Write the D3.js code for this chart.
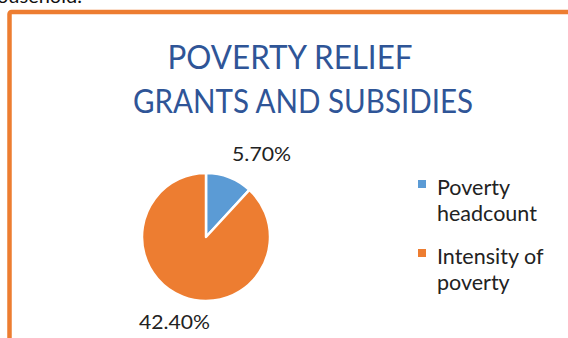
<!DOCTYPE html>
<html>
<head>
<meta charset="utf-8">
<script src="https://cdn.jsdelivr.net/npm/d3@7"></script>
<style>
  body { margin: 0; background: #fff; }
  svg { display: block; font-family: Lato, "Open Sans", sans-serif; }
</style>
</head>
<body>
<svg id="svg" width="568" height="338"></svg>
<script>
const categories = ["Poverty headcount", "Intensity of poverty"];
const values = [5.70, 42.40];
const labels = ["5.70%", "42.40%"];
const legendLines = [["Poverty", "headcount"], ["Intensity of", "poverty"]];
const titleLines = ["POVERTY RELIEF", "GRANTS AND SUBSIDIES"];

const width = 568;
const height = 338;
const svg = d3.select("#svg");

const color = d3.scaleOrdinal()
  .domain(categories)
  .range(["#5B9BD5", "#ED7D31"]);

// stray text of the page above the chart
svg.append("text")
  .attr("x", -3)
  .attr("y", 3)
  .attr("font-size", 20)
  .attr("fill", "#111")
  .text("ousehold.");

// chart frame
svg.append("rect")
  .attr("x", 9.5)
  .attr("y", 12)
  .attr("width", 600)
  .attr("height", 400)
  .attr("rx", 2)
  .attr("fill", "none")
  .attr("stroke", "#ED7D31")
  .attr("stroke-width", 4.5);

// title
const title = svg.append("g").attr("fill", "#2F5597");
title.selectAll("text")
  .data(titleLines)
  .join("text")
  .attr("x", (d, i) => i === 0 ? 290 : 303)
  .attr("y", (d, i) => 69 + i * 44)
  .attr("text-anchor", "middle")
  .attr("font-size", 33)
  .attr("textLength", (d, i) => i === 0 ? 245 : 340)
  .attr("lengthAdjust", "spacingAndGlyphs")
  .text(d => d);

// pie
const cx = 206, cy = 237, r = 64;
const pie = d3.pie().sort(null).value(d => d)(values);
const arc = d3.arc().innerRadius(0).outerRadius(r);
const labelArc = d3.arc().innerRadius(95).outerRadius(95);

const g = svg.append("g").attr("transform", `translate(${cx},${cy})`);
g.selectAll("path")
  .data(pie)
  .join("path")
  .attr("d", arc)
  .attr("fill", (d, i) => color(categories[i]))
  .attr("stroke", "#fff")
  .attr("stroke-width", 2.5)
  .attr("stroke-linejoin", "round");

g.selectAll("text.lbl")
  .data(pie)
  .join("text")
  .attr("class", "lbl")
  .attr("transform", d => {
    const [x, y] = labelArc.centroid(d);
    const mid = (d.startAngle + d.endAngle) / 2;
    const nudge = mid < Math.PI ? 21 : 3;
    return `translate(${x + nudge},${y + (mid < Math.PI ? 6 : -3)})`;
  })
  .attr("text-anchor", "middle")
  .attr("dy", "0.35em")
  .attr("font-size", 19)
  .attr("fill", "#222")
  .attr("textLength", (d, i) => i === 0 ? 59 : 71)
  .attr("lengthAdjust", "spacingAndGlyphs")
  .text((d, i) => labels[i]);

// legend
const legend = svg.append("g").attr("transform", "translate(418,0)");
const item = legend.selectAll("g")
  .data(categories)
  .join("g")
  .attr("transform", (d, i) => `translate(0,${180 + i * 69})`);

item.append("rect")
  .attr("width", 8)
  .attr("height", 8)
  .attr("fill", d => color(d));

item.append("text")
  .attr("x", 19)
  .attr("font-size", 21.5)
  .attr("fill", "#222")
  .selectAll("tspan")
  .data((d, i) => legendLines[i])
  .join("tspan")
  .attr("x", 19)
  .attr("y", (d, j) => 15 + j * 26)
  .text(d => d);
</script>
</body>
</html>
